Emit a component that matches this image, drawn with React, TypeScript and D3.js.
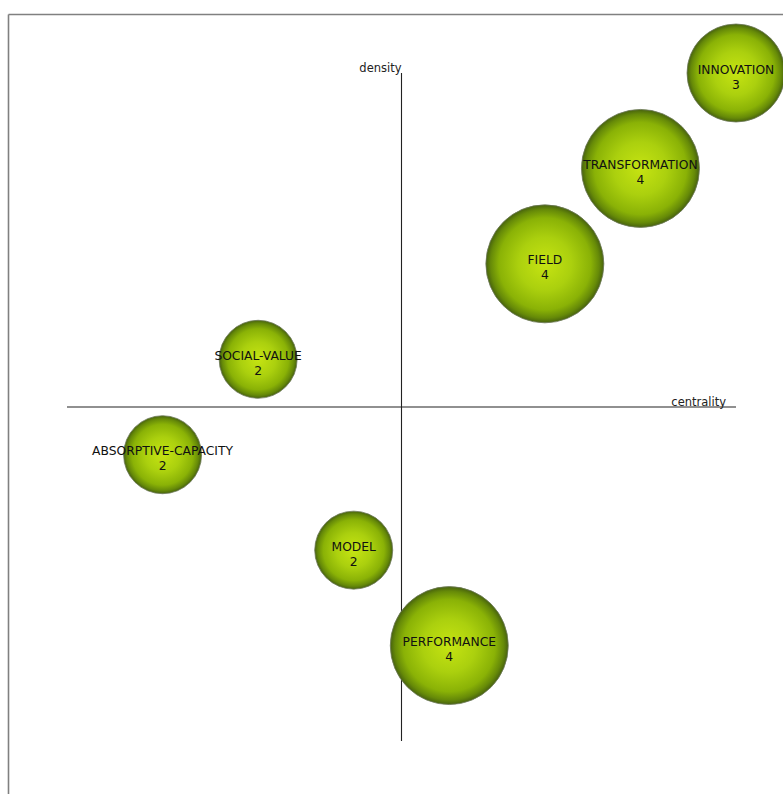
import React from "react";
import * as d3 from "d3";

const themes = ["INNOVATION", "TRANSFORMATION", "FIELD", "SOCIAL-VALUE", "ABSORPTIVE-CAPACITY", "MODEL", "PERFORMANCE"];
const centrality = [7, 6, 5, 2, 1, 3, 4];
const density = [7, 6, 5, 4, 3, 2, 1];
const documents = [3, 4, 4, 2, 2, 2, 4];

const W = 783;
const H = 794;

export default function App() {
  const x = d3.scaleLinear().domain([0, 7]).range([67, 736]);
  const y = d3.scaleLinear().domain([0, 7]).range([741, 73]);
  const r = d3.scaleLinear().domain([2, 4]).range([39, 59]);
  const font = "'DejaVu Sans', Verdana, sans-serif";
  const cx0 = x(3.5);
  const cy0 = y(3.5);
  const data = themes.map((t, i) => ({ t, c: centrality[i], d: density[i], n: documents[i] }));
  return (
    <div style={{ position: "absolute", left: 0, top: 0 }}>
      <svg width={W} height={H} style={{ display: "block", background: "#fff" }}>
        <defs>
          <radialGradient id="bub" cx="50%" cy="50%" r="50%">
            <stop offset="0%" stopColor="#c6e412" />
            <stop offset="45%" stopColor="#abd00e" />
            <stop offset="78%" stopColor="#8ab206" />
            <stop offset="92%" stopColor="#668a08" />
            <stop offset="100%" stopColor="#47620e" />
          </radialGradient>
        </defs>
        <line x1={8.5} y1={14.5} x2={W} y2={14.5} stroke="#808080" strokeWidth={1.6} />
        <line x1={8.5} y1={14.5} x2={8.5} y2={H} stroke="#808080" strokeWidth={1.6} />
        <line x1={cx0} y1={y(7)} x2={cx0} y2={y(0)} stroke="#222" strokeWidth={1.1} />
        <line x1={x(0)} y1={cy0} x2={x(7)} y2={cy0} stroke="#222" strokeWidth={1.1} />
        <text x={cx0} y={y(7) - 1} textAnchor="end" fontFamily={font} fontSize={11.5} fill="#222">density</text>
        <text x={x(7) - 10} y={cy0 - 1} textAnchor="end" fontFamily={font} fontSize={11.5} fill="#222">centrality</text>
        {data.map((p) => (
          <g key={p.t}>
            <circle cx={x(p.c)} cy={y(p.d)} r={r(p.n)} fill="url(#bub)" stroke="#6e7a5a" strokeWidth={0.8} />
            <text x={x(p.c)} y={y(p.d) + 0.5} textAnchor="middle" fontFamily={font} fontSize={12.3} fill="#111">{p.t}</text>
            <text x={x(p.c)} y={y(p.d) + 15.5} textAnchor="middle" fontFamily={font} fontSize={12.3} fill="#111">{p.n}</text>
          </g>
        ))}
      </svg>
    </div>
  );
}
